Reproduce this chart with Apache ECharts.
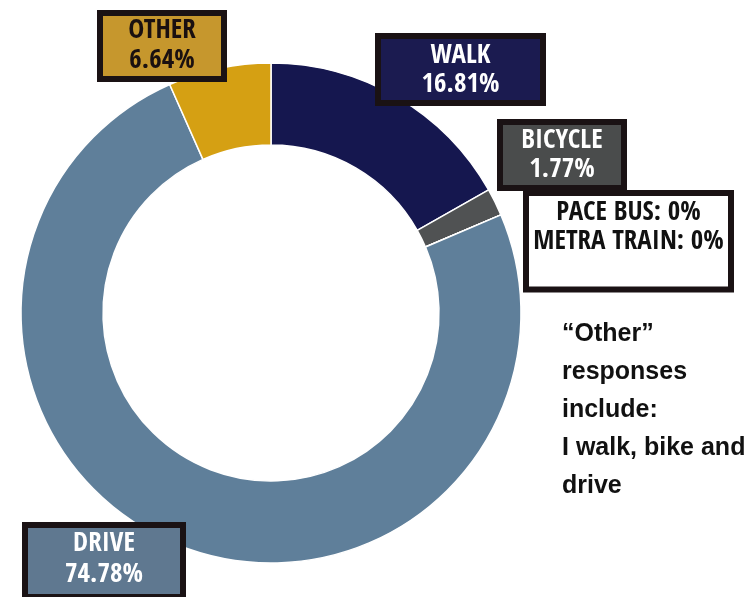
<!DOCTYPE html>
<html>
<head>
<meta charset="utf-8">
<script src="https://cdn.jsdelivr.net/npm/echarts@6/dist/echarts.min.js"></script>
<style>
  html, body { margin: 0; padding: 0; background: #ffffff; }
  #chart { width: 752px; height: 597px; }
</style>
</head>
<body>
<div id="chart"></div>
<script>
// Travel mode shares (percent), clockwise from 12 o'clock
const modes = ['WALK', 'BICYCLE', 'PACE BUS', 'METRA TRAIN', 'DRIVE', 'OTHER'];
const shares = [16.81, 1.77, 0, 0, 74.78, 6.64];
const noteLines = ['\u201COther\u201D', 'responses', 'include:', 'I walk, bike and', 'drive'];

// Colours per mode
const sliceColors = ['#15174f', '#505253', '#5f7f9a', '#5f7f9a', '#5f7f9a', '#d5a013'];
const boxColors   = ['#1b1b50', '#4a4c4c', '#ffffff', '#ffffff', '#5f7890', '#c6972d'];
const textColors  = ['#ffffff', '#ffffff', '#111111', '#111111', '#ffffff', '#1a1010'];

// Label box placement: centre x, top y of the box, content width, padding, line height, font size
const boxLayout = [
  { cx: 460.5, top: 39,  w: 159, pad: [2, 0, 0, 0],   lh: 29.5, fs: 27 },
  { cx: 562,   top: 125, w: 118, pad: [1, 0, 1, 0],   lh: 29,   fs: 27 },
  { cx: 628.5, top: 196, w: 199, pad: [2.5, 0, 30, 0], lh: 29,  fs: 27 },
  null,
  { cx: 104,   top: 528, w: 152, pad: [0, 0, 4, 0],   lh: 31,   fs: 27 },
  { cx: 162,   top: 16,  w: 118, pad: [0, 0, 0, 0],   lh: 30,   fs: 27 }
];

const condensed = "'Open Sans Condensed', 'Roboto Condensed', 'DejaVu Sans Condensed', sans-serif";

function labelText(i) {
  if (i === 2) {
    return modes[2] + ': ' + shares[2] + '%\n' + modes[3] + ': ' + shares[3] + '%';
  }
  return modes[i] + '\n' + shares[i].toFixed(2) + '%';
}

const data = modes.map((name, i) => {
  const b = boxLayout[i];
  return {
    name: name,
    value: shares[i],
    itemStyle: { color: sliceColors[i] },
    label: b ? {
      show: true,
      formatter: () => labelText(i),
      color: textColors[i],
      backgroundColor: boxColors[i],
      borderColor: '#1a1214',
      borderWidth: 6,
      width: b.w,
      overflow: 'none',
      padding: b.pad,
      lineHeight: b.lh,
      fontSize: b.fs,
      fontWeight: 'bold',
      fontFamily: condensed,
      align: 'center'
    } : { show: false },
    labelLine: { show: false }
  };
});

const chart = echarts.init(document.getElementById('chart'), null, { renderer: 'canvas' });
chart.setOption({
  backgroundColor: '#ffffff',
  animation: false,
  series: [{
    type: 'pie',
    center: [271, 313],
    radius: [168, 250],
    startAngle: 90,
    clockwise: true,
    avoidLabelOverlap: false,
    silent: true,
    itemStyle: { borderColor: '#ffffff', borderWidth: 1.5 },
    label: { position: 'outside' },
    labelLayout: function (p) {
      const b = boxLayout[p.dataIndex];
      if (!b) return {};
      return { x: b.cx, y: b.top, align: 'center', verticalAlign: 'top' };
    },
    data: data
  }],
  graphic: [{
    type: 'text',
    left: 562,
    top: 315,
    style: {
      text: noteLines.join('\n'),
      fill: '#111111',
      font: 'bold 25px "Liberation Sans", Arial, sans-serif',
      lineHeight: 38
    }
  }]
});
</script>
</body>
</html>
